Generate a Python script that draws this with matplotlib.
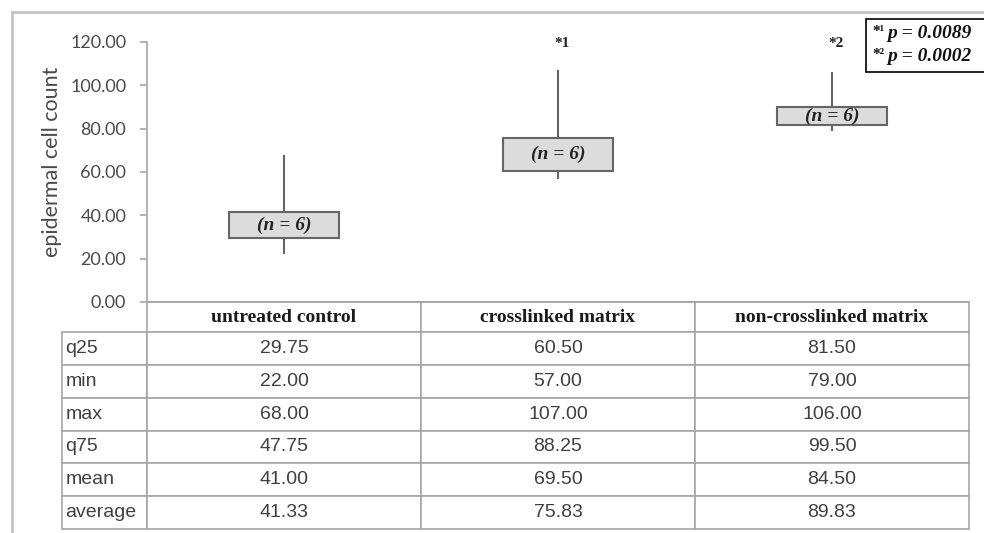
import matplotlib
matplotlib.use("Agg")
import matplotlib.pyplot as plt
from matplotlib.table import Table
from matplotlib.patches import Rectangle
from matplotlib.lines import Line2D

# epidermal cell counts per treatment group
groups = ["untreated control", "crosslinked matrix", "non-crosslinked matrix"]
stat_names = ["q25", "min", "max", "q75", "mean", "average"]
q25 = [29.75, 60.50, 81.50]
mins = [22.00, 57.00, 79.00]
maxs = [68.00, 107.00, 106.00]
q75 = [47.75, 88.25, 99.50]
means = [41.00, 69.50, 84.50]
averages = [41.33, 75.83, 89.83]
sig_marks = ["", "*1", "*2"]
p_values = ["0.0089", "0.0002"]
n_per_group = 6

W, H = 984, 533
fig = plt.figure(figsize=(W / 100, H / 100), dpi=100)


def px(x, y):
    # pixel position -> figure fraction
    return x / W, 1 - y / H


ax_left, ax_right, ax_top, ax_bottom = 147, 969, 42, 302
ax_w, ax_h = ax_right - ax_left, ax_bottom - ax_top
ax = fig.add_axes([ax_left / W, 1 - ax_bottom / H, ax_w / W, ax_h / H])

axis_grey = "#a6a6a6"
box_edge = "#666666"
xs = list(range(len(groups)))

# whiskers from min to max, box from q25 up to the average
ax.vlines(xs, mins, maxs, color=box_edge, lw=1.5, zorder=1)
lows = q25
highs = averages
ax.bar(xs, [h - l for h, l in zip(highs, lows)], bottom=lows, width=0.4,
       color="#dcdcdc", edgecolor=box_edge, linewidth=1.5, zorder=2)
for x, l, h in zip(xs, lows, highs):
    ax.text(x, (l + h) / 2, f"(n = {n_per_group})", ha="center", va="center",
            family="Liberation Serif", fontweight="bold", style="italic",
            fontsize=14, color="#222222", zorder=3)
for x, mark in zip(xs, sig_marks):
    if mark:
        ax.annotate(mark, (x, 119.5), xytext=(3, 0), textcoords="offset points",
                    ha="center", va="center", family="Liberation Serif",
                    fontweight="bold", fontsize=11, color="#222222",
                    annotation_clip=False)

ax.set_xlim(-0.5, len(groups) - 0.5)
ax.set_ylim(0, 120)
ax.set_yticks(range(0, 121, 20))
ax.set_yticklabels([f"{v:.2f}" for v in range(0, 121, 20)])
ax.set_xticks([])
for side in ["top", "right"]:
    ax.spines[side].set_visible(False)
for side in ["left", "bottom"]:
    ax.spines[side].set_color(axis_grey)
    ax.spines[side].set_linewidth(1.2)
ax.tick_params(axis="y", direction="out", length=5, width=1.2, color=axis_grey,
               pad=10, labelsize=13, labelcolor="#4a4a4a")
for lab in ax.get_yticklabels():
    lab.set_family("Lato")
ax.set_ylabel("epidermal cell count", family="Lato", fontsize=15.5,
              color="#4a4a4a")
ax.yaxis.set_label_coords(-0.103, 0.538)

# data table under the axis (sizes in axes fractions)
tab_left, tab_bottom = 62, 529
header_h = 30 / ax_h
row_h = 32.8 / ax_h
label_w = (ax_left - tab_left) / ax_w
col_w = 1 / len(groups)
table_h = (tab_bottom - ax_bottom) / ax_h
tbl = Table(ax, bbox=[0, -table_h, 1, table_h])
tbl.auto_set_font_size(False)
columns = [q25, mins, maxs, q75, means, averages]
for j, g in enumerate(groups):
    c = tbl.add_cell(0, j, col_w, header_h, text=g, loc="center",
                     facecolor="white", edgecolor=axis_grey)
    c.set_text_props(family="Liberation Serif", fontweight="bold",
                     fontsize=14, color="#1a1a1a")
    c.set_linewidth(1.2)
for i, (name, vals) in enumerate(zip(stat_names, columns), start=1):
    c = tbl.add_cell(i, -1, label_w, row_h, text=name, loc="left",
                     facecolor="white", edgecolor=axis_grey)
    c.PAD = 0.04
    c.set_text_props(family="Liberation Sans", fontsize=14, color="#404040")
    c.set_linewidth(1.2)
    for j, v in enumerate(vals):
        c = tbl.add_cell(i, j, col_w, row_h, text=f"{v:.2f}", loc="center",
                         facecolor="white", edgecolor=axis_grey)
        c.set_text_props(family="Liberation Sans", fontsize=14,
                         color="#404040")
        c.set_linewidth(1.2)
ax.add_table(tbl)
tbl.set_clip_on(False)

# outer frame running off the right and bottom edges
frame_grey = "#c4c4c4"
fig.add_artist(Line2D([12 / W, 12 / W], [px(0, 12)[1], px(0, H + 5)[1]],
                      color=frame_grey, lw=2))
fig.add_artist(Line2D([12 / W, (W + 5) / W], [px(0, 12)[1], px(0, 12)[1]],
                      color=frame_grey, lw=2))

# p-value key box in the top right corner
x0, y0 = px(866, 72)
fig.add_artist(Rectangle((x0, y0), (W + 10 - 866) / W, (72 - 19) / H,
                         transform=fig.transFigure, facecolor="white",
                         edgecolor="black", lw=1.2))
for k, (p, base) in enumerate(zip(p_values, [38, 61])):
    sup = "\u00b9" if k == 0 else "\u00b2"
    fig.text(*px(872, base - 3), "*" + sup, family="Liberation Serif",
             fontweight="bold", fontsize=11, va="baseline", color="#111111")
    fig.text(*px(887, base), f"p = {p}", family="Liberation Serif",
             fontweight="bold", style="italic", fontsize=14, va="baseline",
             color="#111111")

fig.savefig("out.png", dpi=100)
